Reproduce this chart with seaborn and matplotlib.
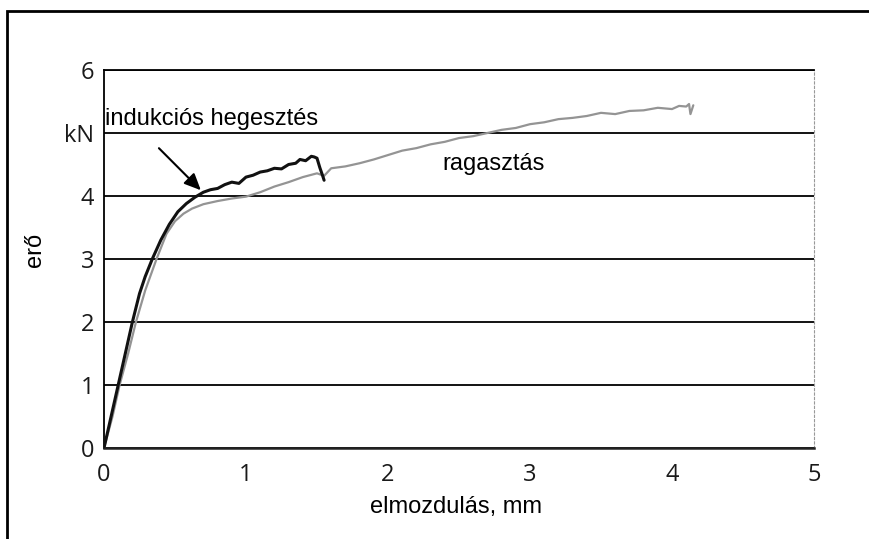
import pandas as pd
import matplotlib
matplotlib.use('Agg')
import matplotlib.pyplot as plt
import seaborn as sns
from matplotlib.patches import Rectangle

# force curves (x: mm, y: kN)
induction_x = [0, 0.03, 0.06, 0.1, 0.14, 0.2, 0.25, 0.29, 0.34, 0.4,
               0.46, 0.52, 0.58, 0.64, 0.7, 0.75, 0.8, 0.85, 0.9, 0.95,
               1.0, 1.05, 1.1, 1.15, 1.2, 1.25, 1.3, 1.35, 1.38, 1.42,
               1.46, 1.48, 1.5, 1.52, 1.54, 1.55]
induction_y = [0, 0.3, 0.6, 1.0, 1.4, 2.0, 2.45, 2.72, 3.0, 3.3,
               3.55, 3.75, 3.88, 3.98, 4.06, 4.1, 4.12, 4.18, 4.22, 4.2,
               4.3, 4.33, 4.38, 4.4, 4.44, 4.43, 4.5, 4.52, 4.58, 4.56,
               4.63, 4.62, 4.6, 4.45, 4.32, 4.25]

adhesive_x = [0, 0.03, 0.06, 0.11, 0.17, 0.225, 0.29, 0.37, 0.44, 0.5,
              0.56, 0.62, 0.7, 0.8, 0.9, 1.0, 1.1, 1.2, 1.3, 1.4,
              1.5, 1.55, 1.6, 1.7, 1.8, 1.9, 2.0, 2.1, 2.2, 2.3,
              2.4, 2.5, 2.6, 2.7, 2.8, 2.9, 3.0, 3.1, 3.2, 3.3,
              3.4, 3.5, 3.6, 3.7, 3.8, 3.9, 4.0, 4.05, 4.1, 4.12,
              4.13, 4.15]
adhesive_y = [0, 0.25, 0.5, 1.0, 1.5, 2.0, 2.5, 3.0, 3.4, 3.6,
              3.72, 3.8, 3.87, 3.92, 3.96, 3.99, 4.06, 4.15, 4.22, 4.3,
              4.36, 4.32, 4.44, 4.47, 4.52, 4.58, 4.65, 4.72, 4.76, 4.82,
              4.86, 4.92, 4.95, 5.0, 5.05, 5.08, 5.14, 5.17, 5.22, 5.24,
              5.27, 5.32, 5.3, 5.35, 5.36, 5.4, 5.38, 5.43, 5.42, 5.46,
              5.3, 5.44]

y_ticks = [0, 1, 2, 3, 4, 5, 6]
y_tick_labels = ['0', '1', '2', '3', '4', 'kN', '6']
x_ticks = [0, 1, 2, 3, 4, 5]

sns.set_style('white')
plt.rcParams['font.family'] = ['Liberation Sans', 'DejaVu Sans']

fig = plt.figure(figsize=(8.69, 5.39), dpi=100)
ax = fig.add_axes([104 / 869, 1 - 448 / 539, 710 / 869, 378 / 539])

df_adh = pd.DataFrame({'x': adhesive_x, 'y': adhesive_y})
df_ind = pd.DataFrame({'x': induction_x, 'y': induction_y})
sns.lineplot(data=df_adh, x='x', y='y', sort=False, estimator=None,
             color='#949494', lw=1.6, ax=ax, zorder=3)
sns.lineplot(data=df_ind, x='x', y='y', sort=False, estimator=None,
             color='#111111', lw=2.2, ax=ax, zorder=4)

ax.set_xlim(0, 5)
ax.set_ylim(0, 6)
ax.set_yticks(y_ticks)
ax.set_yticklabels(y_tick_labels)
ax.set_xticks(x_ticks)
ax.set_xticklabels([str(t) for t in x_ticks])
ax.set_xlabel('')
ax.set_ylabel('')

ax.grid(axis='y', color='black', lw=1.3)
ax.grid(axis='x', visible=False)
ax.set_axisbelow(True)

for side in ['left', 'top']:
    ax.spines[side].set_color('black')
    ax.spines[side].set_linewidth(1.3)
ax.spines['bottom'].set_color('#222222')
ax.spines['bottom'].set_linewidth(1.8)
ax.spines['right'].set_color('#999999')
ax.spines['right'].set_linewidth(0.8)
ax.spines['right'].set_linestyle((0, (2, 2)))

ax.tick_params(axis='y', length=0, pad=7)
ax.tick_params(axis='x', direction='in', length=3, color='#888888', pad=11)
for lab in ax.get_xticklabels() + ax.get_yticklabels():
    lab.set_fontfamily(['Open Sans', 'DejaVu Sans'])
    lab.set_fontsize(17)
    lab.set_color('#1a1a1a')

ax.annotate('', xy=(0.696, 4.06), xytext=(0.373, 4.79),
            arrowprops=dict(arrowstyle='-|>,head_length=1.0,head_width=0.45',
                            color='black', lw=1.5), zorder=5)
ax.text(0.01, 5.13, 'indukciós hegesztés', fontsize=17, va='baseline',
        ha='left', color='black')
ax.text(2.38, 4.41, 'ragasztás', fontsize=17, va='baseline', ha='left',
        color='black')

fig.text(456 / 869, 1 - 513 / 539, 'elmozdulás, mm', fontsize=17,
         ha='center', va='baseline', color='black')
fig.text(35 / 869, 1 - 250 / 539, 'erő', fontsize=17, rotation=90,
         ha='center', va='center', color='black')

# frame around the whole scanned figure
fig.add_artist(Rectangle((7.5 / 869, -0.1), 2, 1.1 - 11.3 / 539,
                         transform=fig.transFigure, fill=False,
                         ec='black', lw=2, clip_on=False))

fig.savefig('out.png', dpi=100)
